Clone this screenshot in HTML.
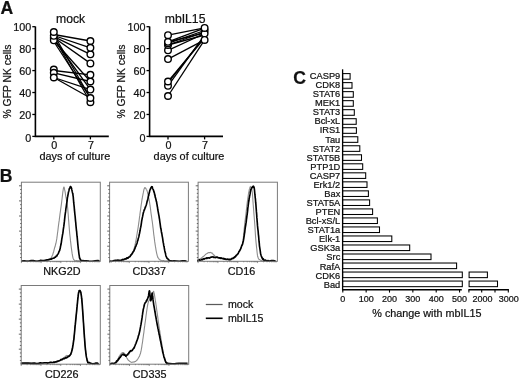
<!DOCTYPE html>
<html><head><meta charset="utf-8"><style>
html,body{margin:0;padding:0;background:#fff;width:520px;height:380px;overflow:hidden}
svg{display:block;filter:grayscale(1)}
text{font-family:"Liberation Sans", sans-serif;fill:#111;stroke:#111;stroke-width:0.22px}
</style></head><body>
<svg width="520" height="380" viewBox="0 0 520 380">
<path d="M35.40 26.40 V136.40 H108.80" fill="none" stroke="#000" stroke-width="1.6"/>
<line x1="32.30" y1="136.40" x2="35.40" y2="136.40" stroke="#000" stroke-width="1.3"/>
<text x="31.30" y="141.80" font-size="10.8" text-anchor="end" font-weight="normal" >0</text>
<line x1="32.30" y1="114.46" x2="35.40" y2="114.46" stroke="#000" stroke-width="1.3"/>
<text x="31.30" y="118.76" font-size="10.8" text-anchor="end" font-weight="normal" >20</text>
<line x1="32.30" y1="92.52" x2="35.40" y2="92.52" stroke="#000" stroke-width="1.3"/>
<text x="31.30" y="96.82" font-size="10.8" text-anchor="end" font-weight="normal" >40</text>
<line x1="32.30" y1="70.58" x2="35.40" y2="70.58" stroke="#000" stroke-width="1.3"/>
<text x="31.30" y="74.88" font-size="10.8" text-anchor="end" font-weight="normal" >60</text>
<line x1="32.30" y1="48.64" x2="35.40" y2="48.64" stroke="#000" stroke-width="1.3"/>
<text x="31.30" y="52.94" font-size="10.8" text-anchor="end" font-weight="normal" >80</text>
<line x1="32.30" y1="26.70" x2="35.40" y2="26.70" stroke="#000" stroke-width="1.3"/>
<text x="31.30" y="31.00" font-size="10.8" text-anchor="end" font-weight="normal" >100</text>
<line x1="53.80" y1="136.40" x2="53.80" y2="139.40" stroke="#000" stroke-width="1.3"/>
<text x="54.30" y="149.20" font-size="10.8" text-anchor="middle" font-weight="normal" >0</text>
<line x1="90.40" y1="136.40" x2="90.40" y2="139.40" stroke="#000" stroke-width="1.3"/>
<text x="90.90" y="149.20" font-size="10.8" text-anchor="middle" font-weight="normal" >7</text>
<text x="74.80" y="159.60" font-size="10.9" text-anchor="middle" font-weight="normal" >days of culture</text>
<text x="70.65" y="23.00" font-size="12.2" text-anchor="middle" font-weight="normal" >mock</text>
<text transform="translate(10.70,81.5) rotate(-90)" font-size="10.35" text-anchor="middle">% GFP NK cells</text>
<line x1="53.80" y1="34.50" x2="90.40" y2="41.00" stroke="#000" stroke-width="1.3"/>
<line x1="53.80" y1="35.50" x2="90.40" y2="47.80" stroke="#000" stroke-width="1.3"/>
<line x1="53.80" y1="36.60" x2="90.40" y2="54.30" stroke="#000" stroke-width="1.3"/>
<line x1="53.80" y1="37.50" x2="90.40" y2="63.40" stroke="#000" stroke-width="1.3"/>
<line x1="53.80" y1="40.50" x2="90.40" y2="81.50" stroke="#000" stroke-width="1.3"/>
<line x1="53.80" y1="39.00" x2="90.40" y2="89.60" stroke="#000" stroke-width="1.3"/>
<line x1="53.80" y1="34.50" x2="90.40" y2="98.00" stroke="#000" stroke-width="1.3"/>
<line x1="53.80" y1="37.00" x2="90.40" y2="102.20" stroke="#000" stroke-width="1.3"/>
<line x1="53.80" y1="41.50" x2="90.40" y2="98.00" stroke="#000" stroke-width="1.3"/>
<line x1="53.80" y1="70.50" x2="90.40" y2="74.80" stroke="#000" stroke-width="1.3"/>
<line x1="53.80" y1="72.80" x2="90.40" y2="81.50" stroke="#000" stroke-width="1.3"/>
<line x1="53.80" y1="77.50" x2="90.40" y2="89.60" stroke="#000" stroke-width="1.3"/>
<line x1="53.80" y1="77.50" x2="90.40" y2="98.00" stroke="#000" stroke-width="1.3"/>
<circle cx="53.80" cy="38.00" r="3.3" fill="#fff" stroke="#000" stroke-width="1.4"/>
<circle cx="53.80" cy="40.30" r="3.3" fill="#fff" stroke="#000" stroke-width="1.4"/>
<circle cx="53.80" cy="35.80" r="3.3" fill="#fff" stroke="#000" stroke-width="1.4"/>
<circle cx="53.80" cy="32.00" r="3.3" fill="#fff" stroke="#000" stroke-width="1.4"/>
<circle cx="53.80" cy="69.60" r="3.3" fill="#fff" stroke="#000" stroke-width="1.4"/>
<circle cx="53.80" cy="72.80" r="3.3" fill="#fff" stroke="#000" stroke-width="1.4"/>
<circle cx="53.80" cy="77.50" r="3.3" fill="#fff" stroke="#000" stroke-width="1.4"/>
<circle cx="90.40" cy="102.20" r="3.3" fill="#fff" stroke="#000" stroke-width="1.4"/>
<circle cx="90.40" cy="98.00" r="3.3" fill="#fff" stroke="#000" stroke-width="1.4"/>
<circle cx="90.40" cy="89.60" r="3.3" fill="#fff" stroke="#000" stroke-width="1.4"/>
<circle cx="90.40" cy="81.50" r="3.3" fill="#fff" stroke="#000" stroke-width="1.4"/>
<circle cx="90.40" cy="74.80" r="3.3" fill="#fff" stroke="#000" stroke-width="1.4"/>
<circle cx="90.40" cy="63.40" r="3.3" fill="#fff" stroke="#000" stroke-width="1.4"/>
<circle cx="90.40" cy="54.30" r="3.3" fill="#fff" stroke="#000" stroke-width="1.4"/>
<circle cx="90.40" cy="47.80" r="3.3" fill="#fff" stroke="#000" stroke-width="1.4"/>
<circle cx="90.40" cy="41.00" r="3.3" fill="#fff" stroke="#000" stroke-width="1.4"/>
<path d="M149.60 26.40 V136.40 H223.00" fill="none" stroke="#000" stroke-width="1.6"/>
<line x1="146.50" y1="136.40" x2="149.60" y2="136.40" stroke="#000" stroke-width="1.3"/>
<text x="145.50" y="141.80" font-size="10.8" text-anchor="end" font-weight="normal" >0</text>
<line x1="146.50" y1="114.46" x2="149.60" y2="114.46" stroke="#000" stroke-width="1.3"/>
<text x="145.50" y="118.76" font-size="10.8" text-anchor="end" font-weight="normal" >20</text>
<line x1="146.50" y1="92.52" x2="149.60" y2="92.52" stroke="#000" stroke-width="1.3"/>
<text x="145.50" y="96.82" font-size="10.8" text-anchor="end" font-weight="normal" >40</text>
<line x1="146.50" y1="70.58" x2="149.60" y2="70.58" stroke="#000" stroke-width="1.3"/>
<text x="145.50" y="74.88" font-size="10.8" text-anchor="end" font-weight="normal" >60</text>
<line x1="146.50" y1="48.64" x2="149.60" y2="48.64" stroke="#000" stroke-width="1.3"/>
<text x="145.50" y="52.94" font-size="10.8" text-anchor="end" font-weight="normal" >80</text>
<line x1="146.50" y1="26.70" x2="149.60" y2="26.70" stroke="#000" stroke-width="1.3"/>
<text x="145.50" y="31.00" font-size="10.8" text-anchor="end" font-weight="normal" >100</text>
<line x1="168.00" y1="136.40" x2="168.00" y2="139.40" stroke="#000" stroke-width="1.3"/>
<text x="168.50" y="149.20" font-size="10.8" text-anchor="middle" font-weight="normal" >0</text>
<line x1="204.60" y1="136.40" x2="204.60" y2="139.40" stroke="#000" stroke-width="1.3"/>
<text x="205.10" y="149.20" font-size="10.8" text-anchor="middle" font-weight="normal" >7</text>
<text x="189.00" y="159.60" font-size="10.9" text-anchor="middle" font-weight="normal" >days of culture</text>
<text x="185.10" y="23.00" font-size="12.2" text-anchor="middle" font-weight="normal" >mbIL15</text>
<text transform="translate(124.90,81.5) rotate(-90)" font-size="10.35" text-anchor="middle">% GFP NK cells</text>
<line x1="168.00" y1="35.20" x2="204.60" y2="27.90" stroke="#000" stroke-width="1.3"/>
<line x1="168.00" y1="41.80" x2="204.60" y2="28.20" stroke="#000" stroke-width="1.3"/>
<line x1="168.00" y1="43.30" x2="204.60" y2="30.50" stroke="#000" stroke-width="1.3"/>
<line x1="168.00" y1="45.00" x2="204.60" y2="32.00" stroke="#000" stroke-width="1.3"/>
<line x1="168.00" y1="50.30" x2="204.60" y2="33.50" stroke="#000" stroke-width="1.3"/>
<line x1="168.00" y1="59.10" x2="204.60" y2="39.90" stroke="#000" stroke-width="1.3"/>
<line x1="168.00" y1="41.80" x2="204.60" y2="33.00" stroke="#000" stroke-width="1.3"/>
<line x1="168.00" y1="45.00" x2="204.60" y2="35.00" stroke="#000" stroke-width="1.3"/>
<line x1="168.00" y1="81.50" x2="204.60" y2="38.00" stroke="#000" stroke-width="1.3"/>
<line x1="168.00" y1="82.80" x2="204.60" y2="36.50" stroke="#000" stroke-width="1.3"/>
<line x1="168.00" y1="85.80" x2="204.60" y2="35.20" stroke="#000" stroke-width="1.3"/>
<line x1="168.00" y1="96.00" x2="204.60" y2="39.90" stroke="#000" stroke-width="1.3"/>
<circle cx="168.00" cy="96.00" r="3.3" fill="#fff" stroke="#000" stroke-width="1.4"/>
<circle cx="168.00" cy="85.80" r="3.3" fill="#fff" stroke="#000" stroke-width="1.4"/>
<circle cx="168.00" cy="81.50" r="3.3" fill="#fff" stroke="#000" stroke-width="1.4"/>
<circle cx="168.00" cy="59.10" r="3.3" fill="#fff" stroke="#000" stroke-width="1.4"/>
<circle cx="168.00" cy="50.30" r="3.3" fill="#fff" stroke="#000" stroke-width="1.4"/>
<circle cx="168.00" cy="45.00" r="3.3" fill="#fff" stroke="#000" stroke-width="1.4"/>
<circle cx="168.00" cy="43.30" r="3.3" fill="#fff" stroke="#000" stroke-width="1.4"/>
<circle cx="168.00" cy="41.80" r="3.3" fill="#fff" stroke="#000" stroke-width="1.4"/>
<circle cx="168.00" cy="35.20" r="3.3" fill="#fff" stroke="#000" stroke-width="1.4"/>
<circle cx="204.60" cy="30.50" r="3.3" fill="#fff" stroke="#000" stroke-width="1.4"/>
<circle cx="204.60" cy="33.50" r="3.3" fill="#fff" stroke="#000" stroke-width="1.4"/>
<circle cx="204.60" cy="27.90" r="3.3" fill="#fff" stroke="#000" stroke-width="1.4"/>
<circle cx="204.60" cy="39.90" r="3.3" fill="#fff" stroke="#000" stroke-width="1.4"/>
<path d="M21.11 260.84 L23.56 261.01 L27.08 260.88 L31.19 260.99 L35.39 260.97 L39.19 260.58 L42.10 260.48 L44.08 260.93 L45.50 260.57 L46.53 260.52 L47.30 260.89 L47.99 260.40 L48.74 260.31 L49.49 259.64 L50.13 259.19 L50.67 258.26 L51.15 257.82 L51.60 257.16 L52.05 256.09 L52.48 255.28 L52.87 254.22 L53.23 252.76 L53.57 252.01 L53.91 250.69 L54.26 249.23 L54.64 247.73 L55.02 246.83 L55.41 245.14 L55.78 243.76 L56.14 242.27 L56.47 240.52 L56.77 238.93 L57.03 236.84 L57.27 235.25 L57.51 233.14 L57.76 231.48 L58.02 229.42 L58.30 226.81 L58.60 224.58 L58.90 222.30 L59.21 220.43 L59.50 217.85 L59.79 215.83 L60.06 213.64 L60.33 211.86 L60.59 209.94 L60.84 208.11 L61.09 206.44 L61.34 204.60 L61.57 202.86 L61.81 200.72 L62.04 198.86 L62.26 196.88 L62.47 195.19 L62.66 193.45 L62.84 191.83 L63.00 191.08 L63.14 190.13 L63.28 189.24 L63.42 188.34 L63.55 187.88 L63.66 187.19 L63.77 187.33 L63.86 187.10 L63.96 187.00 L64.08 187.10 L64.21 187.96 L64.35 188.56 L64.50 188.67 L64.66 189.89 L64.85 190.64 L65.06 191.69 L65.31 193.23 L65.63 195.30 L66.01 197.47 L66.42 199.31 L66.83 202.09 L67.21 204.19 L67.52 206.92 L67.77 208.93 L67.97 211.50 L68.15 213.80 L68.30 215.75 L68.46 218.29 L68.63 220.12 L68.81 222.22 L68.98 224.77 L69.15 226.67 L69.33 229.01 L69.52 231.38 L69.73 233.74 L69.97 235.76 L70.23 238.04 L70.49 240.89 L70.77 242.85 L71.03 245.41 L71.28 247.35 L71.51 248.85 L71.73 250.59 L71.95 252.19 L72.16 253.70 L72.38 254.97 L72.61 256.11 L72.83 257.14 L73.04 258.17 L73.26 258.61 L73.50 259.15 L73.79 259.82 L74.16 259.95 L74.54 260.30 L74.93 260.88 L75.36 260.69 L75.89 260.74 L76.58 260.44 L77.47 260.73 L78.73 260.89 L80.34 260.60 L82.10 261.00 L83.82 261.04 L85.29 260.72 L86.31 261.08" fill="none" stroke="#8c8c8c" stroke-width="1.1" stroke-linejoin="round"/>
<path d="M21.11 260.97 L22.42 261.17 L24.22 260.90 L26.35 261.24 L28.68 261.28 L31.03 260.62 L33.26 260.60 L35.49 261.07 L37.85 261.22 L40.24 260.44 L42.55 260.46 L44.69 260.40 L46.53 259.94 L48.05 259.74 L49.35 259.42 L50.46 259.17 L51.44 259.06 L52.32 258.47 L53.16 258.20 L53.91 258.22 L54.55 257.21 L55.09 257.35 L55.57 257.13 L56.02 256.34 L56.47 255.82 L56.91 255.88 L57.31 254.88 L57.67 254.32 L58.02 253.98 L58.35 253.59 L58.68 252.35 L59.01 251.79 L59.31 250.99 L59.61 250.56 L59.89 249.25 L60.17 248.59 L60.45 246.81 L60.72 245.68 L60.98 244.55 L61.24 243.26 L61.49 241.30 L61.74 239.50 L62.00 237.81 L62.25 236.62 L62.51 234.76 L62.76 233.74 L63.01 232.11 L63.27 229.74 L63.55 227.87 L63.83 226.14 L64.13 223.55 L64.43 221.14 L64.73 218.14 L65.03 215.46 L65.31 213.32 L65.59 211.69 L65.85 209.24 L66.12 207.42 L66.37 205.68 L66.62 203.94 L66.86 202.23 L67.09 201.03 L67.31 198.72 L67.52 197.04 L67.74 196.41 L67.96 194.97 L68.19 193.79 L68.44 192.11 L68.70 191.46 L68.97 190.42 L69.24 188.88 L69.50 188.58 L69.73 188.05 L69.94 187.46 L70.14 187.05 L70.31 186.69 L70.49 186.71 L70.66 186.68 L70.84 186.69 L71.02 187.41 L71.21 187.49 L71.39 188.42 L71.58 188.28 L71.76 189.67 L71.95 190.17 L72.13 191.14 L72.33 191.97 L72.53 192.91 L72.71 193.61 L72.89 194.12 L73.05 195.81 L73.18 196.30 L73.29 197.40 L73.38 198.75 L73.48 199.72 L73.58 200.84 L73.71 202.71 L73.87 204.02 L74.05 205.57 L74.24 207.41 L74.43 209.94 L74.63 211.57 L74.82 213.77 L75.00 215.24 L75.19 216.97 L75.37 219.14 L75.56 221.26 L75.74 222.55 L75.92 224.97 L76.11 226.96 L76.29 228.72 L76.48 230.60 L76.66 231.74 L76.84 234.16 L77.03 236.24 L77.21 237.40 L77.40 239.52 L77.58 241.44 L77.77 243.57 L77.95 245.31 L78.13 247.09 L78.31 249.04 L78.49 250.00 L78.66 251.64 L78.84 253.20 L79.03 254.55 L79.24 255.68 L79.45 257.49 L79.66 258.22 L79.88 258.22 L80.12 259.18 L80.42 259.50 L80.79 259.94 L81.10 260.31 L81.31 260.80 L81.57 260.88 L82.03 260.76 L82.83 260.66 L84.10 260.85 L86.16 260.71 L88.93 261.12 L92.05 261.25 L95.11 260.93 L97.75 260.63 L99.58 260.71" fill="none" stroke="#000" stroke-width="1.65" stroke-linejoin="round"/>
<path d="M121.26 260.70 L122.01 260.59 L123.06 260.38 L124.30 259.75 L125.60 259.55 L126.84 258.94 L127.89 258.27 L128.78 257.63 L129.61 257.05 L130.38 256.46 L131.09 255.52 L131.73 254.85 L132.31 253.81 L132.81 252.74 L133.22 251.95 L133.56 251.01 L133.87 249.51 L134.18 248.47 L134.53 247.07 L134.90 245.73 L135.28 243.97 L135.66 241.72 L136.03 240.05 L136.39 238.00 L136.74 235.77 L137.06 234.02 L137.37 231.95 L137.66 230.50 L137.95 228.54 L138.23 226.81 L138.50 224.89 L138.77 222.95 L139.04 221.12 L139.29 219.15 L139.54 217.01 L139.80 215.43 L140.05 213.21 L140.31 211.39 L140.58 209.82 L140.84 207.43 L141.10 205.55 L141.35 203.74 L141.60 202.54 L141.83 200.59 L142.07 199.06 L142.29 198.22 L142.51 196.53 L142.72 195.79 L142.92 194.58 L143.12 193.62 L143.32 192.69 L143.51 191.55 L143.69 190.85 L143.86 189.66 L144.03 189.48 L144.19 188.83 L144.33 188.56 L144.47 187.91 L144.61 188.09 L144.76 188.08 L144.91 187.49 L145.09 187.66 L145.27 187.92 L145.45 188.27 L145.64 188.16 L145.83 188.40 L146.02 188.72 L146.20 189.22 L146.39 189.60 L146.57 189.72 L146.76 190.08 L146.94 190.53 L147.12 191.02 L147.31 191.65 L147.48 192.11 L147.66 193.07 L147.85 194.13 L148.03 194.64 L148.23 195.74 L148.44 196.33 L148.65 197.61 L148.87 198.69 L149.09 199.76 L149.32 200.92 L149.56 202.30 L149.80 204.00 L150.06 205.95 L150.32 207.42 L150.58 209.37 L150.84 211.74 L151.10 213.76 L151.36 215.39 L151.63 217.21 L151.89 219.24 L152.15 220.79 L152.41 222.71 L152.65 224.53 L152.88 226.63 L153.10 228.33 L153.31 230.15 L153.53 232.29 L153.75 234.32 L153.98 235.79 L154.22 237.94 L154.48 239.72 L154.74 241.93 L155.00 243.68 L155.26 245.30 L155.52 246.94 L155.78 248.37 L156.03 250.11 L156.28 251.42 L156.54 252.57 L156.80 253.83 L157.07 254.85 L157.34 256.01 L157.59 256.38 L157.85 257.53 L158.13 257.78 L158.45 258.35 L158.84 258.74 L159.25 259.39 L159.67 259.75 L160.12 259.90 L160.67 260.12 L161.33 260.49 L162.16 260.77 L163.28 260.65 L164.69 260.96 L166.23 261.16 L167.72 260.91 L169.00 260.80 L169.89 260.84" fill="none" stroke="#8c8c8c" stroke-width="1.1" stroke-linejoin="round"/>
<path d="M109.11 261.20 L109.96 261.12 L111.15 261.32 L112.56 261.16 L114.06 260.54 L115.53 260.39 L116.84 260.33 L118.04 260.13 L119.22 260.43 L120.36 260.38 L121.47 260.22 L122.51 259.43 L123.47 259.76 L124.35 259.04 L125.15 258.92 L125.89 258.97 L126.58 258.13 L127.25 257.84 L127.89 258.16 L128.51 257.30 L129.08 256.96 L129.62 256.73 L130.15 256.33 L130.67 255.16 L131.21 254.80 L131.77 254.12 L132.36 253.27 L132.94 252.06 L133.50 251.39 L134.04 250.73 L134.53 249.25 L134.96 248.48 L135.34 247.23 L135.70 246.49 L136.04 245.93 L136.38 244.47 L136.74 244.10 L137.11 242.96 L137.49 240.98 L137.87 240.44 L138.24 238.58 L138.60 237.55 L138.95 236.14 L139.27 234.30 L139.58 233.17 L139.87 231.64 L140.16 230.26 L140.44 228.25 L140.71 227.18 L140.99 225.85 L141.25 224.04 L141.50 222.36 L141.75 220.46 L142.01 219.35 L142.26 217.86 L142.52 216.91 L142.77 215.66 L143.02 214.41 L143.28 212.98 L143.54 212.37 L143.81 211.39 L144.10 210.09 L144.41 209.92 L144.72 208.96 L145.03 207.78 L145.32 207.84 L145.58 206.47 L145.80 206.03 L145.99 205.83 L146.17 205.20 L146.34 204.64 L146.51 204.18 L146.68 203.39 L146.87 202.58 L147.05 201.73 L147.24 200.87 L147.42 200.68 L147.60 199.94 L147.79 198.99 L147.97 198.42 L148.16 197.33 L148.34 196.50 L148.52 195.86 L148.71 195.55 L148.89 194.06 L149.08 193.70 L149.26 192.67 L149.45 192.33 L149.63 191.19 L149.81 190.46 L150.00 189.90 L150.18 189.51 L150.37 189.27 L150.55 188.50 L150.74 188.61 L150.92 187.66 L151.10 187.54 L151.29 187.15 L151.47 186.93 L151.66 187.34 L151.84 187.18 L152.02 186.68 L152.21 186.80 L152.39 187.28 L152.58 187.99 L152.76 188.57 L152.95 189.08 L153.13 189.52 L153.31 189.67 L153.50 190.42 L153.68 190.76 L153.87 191.60 L154.05 192.19 L154.23 192.45 L154.42 193.13 L154.60 194.29 L154.79 194.34 L154.97 195.79 L155.16 196.65 L155.34 197.48 L155.52 197.73 L155.71 198.60 L155.89 199.32 L156.08 200.05 L156.26 201.08 L156.45 201.60 L156.63 202.13 L156.81 203.60 L156.98 204.29 L157.15 205.48 L157.33 206.75 L157.52 207.31 L157.73 209.27 L157.97 210.54 L158.23 211.84 L158.49 213.39 L158.77 214.89 L159.03 216.20 L159.28 218.02 L159.51 219.07 L159.73 220.98 L159.95 222.60 L160.16 223.91 L160.38 225.52 L160.61 227.36 L160.85 228.80 L161.11 229.61 L161.37 231.69 L161.63 233.04 L161.90 234.01 L162.16 235.79 L162.42 237.19 L162.68 238.60 L162.94 240.57 L163.20 242.44 L163.46 243.35 L163.70 245.21 L163.93 246.31 L164.15 246.99 L164.37 248.76 L164.58 249.61 L164.80 250.95 L165.03 251.79 L165.27 252.84 L165.50 253.50 L165.75 254.91 L166.00 255.95 L166.28 256.75 L166.58 257.14 L166.89 258.09 L167.22 258.42 L167.57 258.59 L167.94 258.97 L168.35 259.39 L168.79 259.83 L169.15 260.08 L169.40 260.58 L169.68 260.91 L170.14 260.88 L170.90 260.86 L172.10 261.13 L174.02 260.88 L176.61 261.03 L179.49 261.29 L182.34 260.94 L184.78 260.72 L186.47 261.36" fill="none" stroke="#000" stroke-width="1.65" stroke-linejoin="round"/>
<path d="M198.21 260.24 L198.70 259.71 L199.40 259.27 L200.21 258.85 L201.08 258.33 L201.91 257.55 L202.63 256.89 L203.25 256.52 L203.82 256.34 L204.36 255.44 L204.88 255.13 L205.41 254.50 L205.95 254.11 L206.51 253.72 L207.08 253.53 L207.65 253.09 L208.21 252.75 L208.75 252.61 L209.26 252.51 L209.75 252.65 L210.23 252.40 L210.69 252.44 L211.12 252.81 L211.53 252.93 L211.92 253.28 L212.24 253.10 L212.51 253.56 L212.76 253.84 L213.01 253.94 L213.31 254.85 L213.68 254.78 L214.15 255.16 L214.67 255.92 L215.24 256.29 L215.84 257.11 L216.43 257.42 L217.00 257.64 L217.53 257.80 L218.02 258.31 L218.52 258.07 L219.05 258.38 L219.63 258.21 L220.31 258.57 L221.13 258.35 L222.07 258.53 L223.08 258.76 L224.08 259.31 L225.02 259.38 L225.84 259.34 L226.52 259.26 L227.11 259.65 L227.64 259.83 L228.13 259.58 L228.63 259.19 L229.16 259.15 L229.72 259.12 L230.30 259.09 L230.88 258.92 L231.45 258.81 L231.98 259.02 L232.47 259.00 L232.90 258.38 L233.29 258.61 L233.65 258.06 L233.99 257.98 L234.33 257.75 L234.68 257.46 L235.05 256.59 L235.42 256.42 L235.79 256.25 L236.16 256.07 L236.52 255.15 L236.89 254.83 L237.26 254.68 L237.63 253.73 L238.00 253.35 L238.37 252.74 L238.74 252.34 L239.10 251.85 L239.48 250.71 L239.86 250.33 L240.25 249.56 L240.63 248.85 L240.98 247.90 L241.31 247.37 L241.62 246.31 L241.91 245.65 L242.18 244.85 L242.44 244.46 L242.66 243.50 L242.86 242.49 L243.02 241.50 L243.13 240.86 L243.22 239.76 L243.30 238.69 L243.40 237.25 L243.52 235.90 L243.68 234.10 L243.85 232.64 L244.04 230.31 L244.23 228.59 L244.43 226.79 L244.63 224.82 L244.84 222.60 L245.06 220.82 L245.28 219.32 L245.51 217.33 L245.73 215.61 L245.96 213.73 L246.18 211.59 L246.40 209.93 L246.62 207.91 L246.84 205.78 L247.06 203.97 L247.28 202.05 L247.50 200.59 L247.72 199.31 L247.95 197.24 L248.17 196.05 L248.39 194.39 L248.61 193.10 L248.83 192.26 L249.05 190.90 L249.27 189.76 L249.49 188.92 L249.71 188.45 L249.93 187.80 L250.16 186.98 L250.38 186.74 L250.61 186.95 L250.84 186.44 L251.05 186.77 L251.26 187.03 L251.46 187.86 L251.66 188.62 L251.85 189.79 L252.04 190.83 L252.21 191.88 L252.37 193.16 L252.50 194.41 L252.61 196.25 L252.71 197.29 L252.81 198.77 L252.91 200.94 L253.03 202.13 L253.16 204.28 L253.31 205.63 L253.46 207.75 L253.61 209.53 L253.76 211.82 L253.91 213.58 L254.06 215.44 L254.21 217.32 L254.36 219.19 L254.50 220.72 L254.65 222.78 L254.80 224.68 L254.94 226.61 L255.08 229.31 L255.23 231.49 L255.37 233.94 L255.52 235.84 L255.68 238.18 L255.85 240.17 L256.03 242.31 L256.22 243.85 L256.41 245.86 L256.60 247.70 L256.79 249.09 L256.96 250.94 L257.11 252.54 L257.27 253.74 L257.44 255.16 L257.64 256.27 L257.89 257.02 L258.17 257.90 L258.47 258.90 L258.79 258.98 L259.16 259.42 L259.59 259.54 L260.10 259.93 L260.76 260.18 L261.58 260.84 L262.45 260.87 L263.30 261.07 L264.02 261.22 L264.52 261.07" fill="none" stroke="#8c8c8c" stroke-width="1.1" stroke-linejoin="round"/>
<path d="M197.77 261.39 L197.77 260.93 L197.74 260.69 L197.71 261.00 L197.75 260.78 L197.90 260.66 L198.21 260.09 L198.73 260.23 L199.43 259.80 L200.24 260.23 L201.09 260.06 L201.91 259.38 L202.63 259.82 L203.25 258.98 L203.82 258.70 L204.36 259.06 L204.88 258.47 L205.41 258.48 L205.95 258.44 L206.50 257.79 L207.05 258.34 L207.60 257.86 L208.16 257.94 L208.71 257.80 L209.26 258.08 L209.82 257.98 L210.37 257.44 L210.92 257.14 L211.47 257.19 L212.03 257.19 L212.58 256.81 L213.13 256.83 L213.68 257.35 L214.24 257.29 L214.79 257.55 L215.34 257.58 L215.89 257.53 L216.45 257.15 L217.00 257.07 L217.55 257.33 L218.10 257.60 L218.66 257.78 L219.21 257.90 L219.76 257.82 L220.31 258.32 L220.87 257.87 L221.42 258.09 L221.97 258.55 L222.53 258.59 L223.08 258.29 L223.63 258.45 L224.18 259.18 L224.74 258.68 L225.29 258.97 L225.84 259.46 L226.39 259.54 L226.95 259.24 L227.50 259.14 L228.05 259.26 L228.60 259.73 L229.16 259.40 L229.72 259.80 L230.30 259.55 L230.88 259.63 L231.45 258.66 L231.98 258.65 L232.47 258.32 L232.90 258.50 L233.29 258.18 L233.65 257.67 L233.99 257.84 L234.33 257.14 L234.68 257.02 L235.05 256.64 L235.42 256.81 L235.79 256.11 L236.16 255.59 L236.52 254.99 L236.89 254.89 L237.26 254.58 L237.63 254.11 L238.00 253.78 L238.37 253.11 L238.74 252.00 L239.10 251.26 L239.48 251.14 L239.86 250.44 L240.25 249.43 L240.63 248.94 L240.98 247.92 L241.31 246.91 L241.61 246.09 L241.89 245.27 L242.14 245.14 L242.39 244.65 L242.62 243.87 L242.86 242.60 L243.10 241.79 L243.34 240.94 L243.57 239.69 L243.79 238.33 L243.99 236.98 L244.19 235.93 L244.36 234.52 L244.50 233.47 L244.63 232.86 L244.76 232.04 L244.90 230.48 L245.07 229.11 L245.27 227.69 L245.49 226.33 L245.72 225.12 L245.96 223.26 L246.18 222.16 L246.40 219.92 L246.59 218.57 L246.78 217.26 L246.96 215.67 L247.14 214.57 L247.32 213.06 L247.50 211.66 L247.69 209.85 L247.87 207.78 L248.06 206.72 L248.24 205.18 L248.42 203.66 L248.61 202.11 L248.79 201.24 L248.98 200.23 L249.16 198.38 L249.35 197.82 L249.53 196.50 L249.71 195.60 L249.89 194.92 L250.07 193.96 L250.24 192.68 L250.42 191.34 L250.61 191.13 L250.82 189.70 L251.05 189.21 L251.30 189.01 L251.56 188.02 L251.83 187.53 L252.10 187.77 L252.37 187.48 L252.63 186.67 L252.91 186.53 L253.18 186.31 L253.45 186.18 L253.69 186.46 L253.91 187.51 L254.10 187.35 L254.26 188.36 L254.40 189.39 L254.53 190.45 L254.66 192.10 L254.80 193.57 L254.94 194.97 L255.09 196.17 L255.24 197.81 L255.39 198.61 L255.53 200.46 L255.68 202.73 L255.83 203.66 L255.98 205.67 L256.12 207.76 L256.27 209.49 L256.42 211.66 L256.57 213.10 L256.71 215.14 L256.85 217.66 L256.99 218.79 L257.14 221.34 L257.29 222.56 L257.45 225.16 L257.62 226.74 L257.80 228.58 L257.99 229.99 L258.18 231.78 L258.37 234.28 L258.56 235.62 L258.73 237.53 L258.91 240.02 L259.08 241.99 L259.26 243.14 L259.45 245.79 L259.66 247.14 L259.89 248.69 L260.12 250.12 L260.37 251.98 L260.63 254.02 L260.91 254.73 L261.21 255.74 L261.53 256.66 L261.85 257.35 L262.20 258.11 L262.57 259.06 L262.98 258.69 L263.42 259.15 L263.84 260.15 L264.24 260.44 L264.66 260.61 L265.18 260.08 L265.85 260.30 L266.73 260.96 L267.99 260.66 L269.60 260.95 L271.36 260.68 L273.08 260.48 L274.55 260.82 L275.58 261.22" fill="none" stroke="#000" stroke-width="1.65" stroke-linejoin="round"/>
<path d="M20.77 363.63 L22.58 363.48 L25.16 363.38 L28.17 363.38 L31.31 363.29 L34.26 363.30 L36.68 363.44 L38.59 363.02 L40.24 363.23 L41.68 363.40 L43.00 363.32 L44.26 362.87 L45.53 363.30 L46.78 363.17 L47.98 362.70 L49.12 362.70 L50.19 362.59 L51.20 362.41 L52.16 362.86 L53.03 362.40 L53.83 362.55 L54.57 361.96 L55.27 361.74 L55.93 362.09 L56.58 361.87 L57.20 361.80 L57.78 361.41 L58.33 361.10 L58.86 361.02 L59.38 360.38 L59.89 360.39 L60.41 360.06 L60.93 359.58 L61.44 359.53 L61.92 359.05 L62.37 358.87 L62.77 358.53 L63.10 358.27 L63.38 358.11 L63.62 358.08 L63.85 358.15 L64.07 357.95 L64.31 357.72 L64.57 357.49 L64.84 356.92 L65.10 357.10 L65.36 356.44 L65.62 356.13 L65.86 356.18 L66.10 356.15 L66.33 355.75 L66.55 355.78 L66.77 355.45 L66.98 355.79 L67.19 355.49 L67.38 355.60 L67.56 355.84 L67.73 356.29 L67.90 356.61 L68.09 356.53 L68.29 356.58 L68.53 356.71 L68.78 356.36 L69.05 356.50 L69.32 356.63 L69.59 356.39 L69.84 355.69 L70.07 355.81 L70.30 355.10 L70.52 354.96 L70.73 354.04 L70.95 353.34 L71.17 352.89 L71.39 352.43 L71.61 351.48 L71.83 351.02 L72.05 350.12 L72.27 348.99 L72.49 347.89 L72.72 346.80 L72.94 345.38 L73.17 343.91 L73.39 342.53 L73.61 341.05 L73.82 339.23 L74.02 337.26 L74.20 335.50 L74.39 333.73 L74.56 331.98 L74.74 329.80 L74.92 327.90 L75.11 326.20 L75.29 324.34 L75.48 322.35 L75.66 320.82 L75.84 319.21 L76.03 317.13 L76.22 315.39 L76.41 313.55 L76.60 311.66 L76.78 309.84 L76.96 307.76 L77.13 306.19 L77.29 304.21 L77.45 303.08 L77.59 301.25 L77.73 299.85 L77.87 298.74 L78.02 297.12 L78.17 295.90 L78.31 295.20 L78.46 294.07 L78.61 292.88 L78.76 292.08 L78.90 291.65 L79.05 290.96 L79.19 291.12 L79.33 290.51 L79.48 290.45 L79.63 290.51 L79.79 290.64 L79.96 290.72 L80.15 291.04 L80.34 291.35 L80.53 291.61 L80.72 291.93 L80.89 293.13 L81.05 293.75 L81.20 294.30 L81.35 295.56 L81.49 296.91 L81.63 298.34 L81.78 299.20 L81.92 300.72 L82.07 302.72 L82.22 304.52 L82.37 306.72 L82.51 308.67 L82.66 310.39 L82.81 312.52 L82.96 314.79 L83.10 317.21 L83.25 319.06 L83.40 321.44 L83.54 323.49 L83.69 326.05 L83.84 327.95 L83.99 330.75 L84.13 332.74 L84.28 334.94 L84.43 336.73 L84.57 338.81 L84.72 340.88 L84.86 342.98 L85.00 344.60 L85.15 346.20 L85.31 348.30 L85.48 349.76 L85.67 351.30 L85.85 352.66 L86.04 354.18 L86.23 355.89 L86.42 356.62 L86.59 357.88 L86.76 358.81 L86.93 359.40 L87.11 360.30 L87.30 360.97 L87.52 361.47 L87.74 361.86 L87.95 361.91 L88.17 362.12 L88.45 362.58 L88.81 362.72 L89.29 362.83 L89.98 363.40 L90.86 363.11 L91.83 363.54 L92.78 363.66 L93.59 363.20 L94.15 363.71" fill="none" stroke="#8c8c8c" stroke-width="1.1" stroke-linejoin="round"/>
<path d="M20.77 363.37 L22.58 363.18 L25.16 363.12 L28.17 362.95 L31.31 363.32 L34.26 363.17 L36.68 363.55 L38.59 363.50 L40.24 362.77 L41.68 363.05 L43.00 363.01 L44.26 362.78 L45.53 362.79 L46.78 362.75 L47.98 363.08 L49.12 362.69 L50.19 362.41 L51.20 362.43 L52.16 362.52 L53.03 362.52 L53.83 362.10 L54.57 362.37 L55.27 361.78 L55.93 362.02 L56.58 361.79 L57.19 361.21 L57.76 361.52 L58.30 360.98 L58.83 360.88 L59.35 360.70 L59.89 360.48 L60.45 360.07 L61.00 359.46 L61.55 359.85 L62.10 359.65 L62.66 359.06 L63.21 358.90 L63.77 358.39 L64.33 358.74 L64.89 358.34 L65.45 357.72 L66.00 358.03 L66.52 357.94 L67.04 357.10 L67.56 357.41 L68.07 356.66 L68.55 356.08 L69.00 356.25 L69.40 355.59 L69.73 355.64 L70.01 355.23 L70.25 354.51 L70.48 354.55 L70.70 354.41 L70.95 353.51 L71.21 352.87 L71.47 352.38 L71.73 351.13 L71.99 350.21 L72.25 349.23 L72.49 348.30 L72.73 346.49 L72.96 345.03 L73.18 344.18 L73.40 342.46 L73.61 340.64 L73.82 339.54 L74.02 337.82 L74.20 335.71 L74.39 334.24 L74.56 332.21 L74.74 330.24 L74.92 327.96 L75.11 325.87 L75.29 324.63 L75.48 322.84 L75.66 320.66 L75.84 318.93 L76.03 317.17 L76.22 315.02 L76.41 313.53 L76.60 311.52 L76.78 309.49 L76.96 307.44 L77.13 306.13 L77.29 304.28 L77.45 303.05 L77.59 301.03 L77.73 299.77 L77.87 298.23 L78.02 297.17 L78.17 296.16 L78.31 294.65 L78.46 293.61 L78.61 293.11 L78.76 292.09 L78.90 291.74 L79.05 290.96 L79.19 290.56 L79.33 290.73 L79.48 290.97 L79.63 290.90 L79.79 290.65 L79.96 290.66 L80.15 290.57 L80.34 291.05 L80.53 291.49 L80.72 292.57 L80.89 292.49 L81.05 294.04 L81.20 294.53 L81.35 295.54 L81.49 296.55 L81.63 298.47 L81.78 299.18 L81.92 301.08 L82.07 302.74 L82.22 304.29 L82.37 306.24 L82.51 308.91 L82.66 310.76 L82.81 312.78 L82.96 315.11 L83.10 316.61 L83.25 319.42 L83.40 321.73 L83.54 323.49 L83.69 325.93 L83.84 328.66 L83.99 330.34 L84.13 332.96 L84.28 334.60 L84.43 337.13 L84.57 338.76 L84.72 340.91 L84.86 342.65 L85.00 344.91 L85.15 346.54 L85.31 348.01 L85.48 349.83 L85.67 351.21 L85.85 353.11 L86.04 354.09 L86.23 355.69 L86.42 356.92 L86.59 357.76 L86.76 358.33 L86.93 359.19 L87.11 360.27 L87.30 360.46 L87.52 361.48 L87.69 361.72 L87.79 362.49 L87.90 362.70 L88.12 362.83 L88.55 362.72 L89.29 362.61 L90.51 363.22 L92.17 363.50 L94.04 363.73 L95.89 363.13 L97.48 363.12 L98.58 363.89" fill="none" stroke="#000" stroke-width="1.65" stroke-linejoin="round"/>
<path d="M114.63 363.38 L114.87 363.04 L115.20 362.96 L115.60 362.31 L116.02 362.19 L116.45 361.85 L116.84 361.31 L117.21 360.44 L117.58 359.70 L117.95 359.20 L118.32 358.55 L118.68 357.32 L119.05 356.54 L119.42 355.94 L119.79 355.73 L120.16 354.88 L120.53 354.37 L120.89 354.21 L121.26 353.59 L121.64 353.09 L122.02 353.14 L122.40 352.58 L122.77 352.68 L123.13 352.92 L123.47 352.67 L123.79 352.71 L124.08 353.19 L124.36 353.33 L124.64 354.04 L124.93 353.92 L125.24 354.81 L125.58 355.17 L125.93 356.15 L126.29 356.75 L126.67 357.71 L127.05 358.28 L127.45 358.88 L127.87 359.58 L128.30 360.31 L128.75 360.51 L129.20 360.86 L129.66 361.34 L130.10 361.45 L130.54 361.83 L130.98 362.17 L131.42 362.29 L131.86 362.40 L132.30 362.24 L132.76 362.07 L133.22 362.01 L133.70 362.10 L134.18 361.87 L134.66 361.89 L135.15 361.44 L135.63 361.41 L136.12 360.91 L136.61 360.49 L137.11 360.01 L137.60 359.30 L138.06 358.60 L138.50 357.83 L138.92 356.93 L139.31 356.57 L139.69 355.53 L140.05 354.35 L140.39 353.82 L140.71 352.47 L141.01 351.24 L141.28 349.77 L141.53 348.13 L141.77 347.12 L142.01 345.03 L142.26 343.52 L142.52 342.21 L142.77 339.94 L143.02 338.35 L143.28 336.47 L143.54 334.40 L143.81 332.82 L144.09 330.41 L144.39 327.94 L144.69 325.93 L145.00 323.36 L145.29 321.55 L145.58 319.54 L145.85 317.55 L146.12 315.04 L146.38 313.49 L146.63 311.44 L146.88 309.83 L147.12 308.17 L147.36 306.76 L147.57 305.37 L147.79 304.50 L148.00 303.14 L148.22 302.74 L148.45 301.39 L148.70 301.33 L148.95 300.46 L149.21 300.11 L149.47 300.26 L149.74 299.86 L150.00 299.62 L150.26 298.98 L150.52 298.52 L150.79 297.62 L151.05 297.40 L151.30 296.72 L151.55 296.43 L151.78 295.27 L152.02 294.70 L152.25 294.46 L152.47 294.03 L152.68 293.22 L152.87 292.96 L153.04 292.49 L153.19 292.00 L153.33 291.71 L153.46 291.59 L153.60 291.23 L153.76 291.62 L153.92 292.38 L154.10 292.82 L154.28 293.86 L154.47 294.78 L154.66 295.98 L154.86 297.34 L155.07 298.65 L155.28 300.14 L155.50 301.31 L155.72 302.67 L155.95 304.34 L156.19 305.81 L156.43 307.63 L156.69 309.64 L156.95 311.53 L157.21 313.20 L157.47 315.06 L157.73 316.87 L157.99 318.76 L158.24 320.79 L158.49 322.48 L158.75 324.70 L159.01 326.35 L159.28 328.05 L159.56 329.95 L159.86 331.55 L160.15 333.81 L160.45 335.66 L160.75 337.26 L161.05 339.32 L161.35 340.92 L161.65 342.82 L161.95 344.74 L162.25 346.60 L162.54 348.63 L162.82 350.30 L163.09 351.88 L163.35 352.95 L163.61 354.69 L163.86 355.77 L164.11 356.85 L164.37 357.94 L164.61 358.78 L164.83 359.38 L165.06 360.13 L165.30 360.82 L165.58 361.36 L165.91 361.94 L166.28 361.94 L166.67 362.72 L167.10 362.98 L167.58 363.19 L168.14 363.56 L168.79 363.24 L169.62 363.75 L170.64 363.89 L171.73 363.45 L172.78 363.74 L173.68 363.94 L174.31 363.56" fill="none" stroke="#8c8c8c" stroke-width="1.1" stroke-linejoin="round"/>
<path d="M109.77 364.00 L110.33 364.01 L111.13 363.56 L112.06 363.26 L113.03 363.26 L113.92 363.70 L114.63 363.17 L115.15 362.84 L115.56 362.66 L115.90 362.77 L116.20 361.80 L116.50 361.21 L116.84 361.66 L117.21 360.69 L117.58 360.32 L117.95 360.41 L118.32 359.33 L118.68 358.69 L119.05 358.95 L119.43 357.89 L119.81 357.36 L120.19 357.49 L120.56 356.36 L120.92 356.50 L121.26 355.58 L121.59 355.20 L121.89 354.78 L122.19 354.77 L122.47 354.53 L122.75 354.20 L123.03 354.20 L123.30 354.02 L123.56 354.62 L123.82 354.88 L124.07 354.93 L124.32 355.20 L124.58 354.69 L124.83 355.00 L125.09 355.12 L125.34 355.24 L125.59 356.11 L125.85 356.12 L126.13 356.11 L126.40 355.67 L126.68 355.09 L126.97 355.12 L127.26 354.49 L127.57 354.91 L127.89 353.98 L128.24 353.58 L128.60 353.67 L128.97 352.46 L129.35 352.58 L129.73 351.54 L130.10 351.47 L130.47 350.71 L130.84 351.26 L131.21 350.71 L131.58 350.54 L131.95 350.65 L132.31 350.30 L132.69 349.58 L133.07 348.98 L133.45 348.84 L133.82 347.75 L134.18 347.88 L134.53 346.77 L134.85 345.94 L135.16 345.36 L135.45 344.42 L135.74 343.84 L136.02 343.28 L136.29 342.41 L136.56 341.62 L136.83 340.87 L137.08 340.34 L137.33 339.88 L137.59 338.82 L137.84 338.32 L138.10 337.22 L138.36 336.02 L138.63 335.16 L138.89 334.84 L139.14 333.54 L139.39 332.46 L139.62 331.54 L139.85 330.75 L140.08 329.21 L140.30 328.06 L140.51 326.94 L140.71 325.50 L140.91 324.89 L141.10 323.76 L141.28 322.70 L141.46 321.57 L141.64 320.46 L141.82 319.51 L142.00 317.79 L142.19 317.18 L142.37 315.04 L142.56 314.38 L142.74 312.48 L142.92 311.86 L143.11 310.31 L143.29 309.13 L143.48 308.60 L143.66 307.98 L143.85 307.16 L144.03 306.42 L144.21 305.81 L144.40 304.35 L144.58 304.07 L144.77 303.31 L144.95 303.42 L145.14 302.73 L145.32 302.63 L145.50 302.40 L145.69 302.35 L145.87 301.85 L146.06 301.81 L146.24 301.27 L146.42 300.58 L146.61 301.06 L146.79 300.08 L146.98 299.80 L147.16 300.14 L147.35 299.26 L147.53 299.17 L147.72 298.13 L147.91 297.78 L148.10 297.67 L148.28 296.43 L148.45 296.16 L148.61 295.64 L148.77 293.85 L148.92 293.09 L149.06 292.04 L149.20 291.11 L149.34 290.87 L149.46 290.96 L149.57 290.89 L149.68 291.87 L149.79 293.16 L149.89 294.55 L150.00 294.79 L150.11 296.08 L150.21 296.79 L150.32 298.60 L150.42 299.29 L150.54 300.16 L150.66 300.71 L150.80 300.21 L150.95 300.36 L151.10 299.80 L151.26 299.09 L151.41 297.77 L151.55 297.01 L151.67 296.16 L151.78 295.85 L151.89 294.44 L152.00 293.52 L152.10 293.03 L152.21 293.02 L152.31 292.99 L152.41 293.71 L152.51 295.08 L152.62 296.23 L152.74 297.01 L152.87 297.97 L153.03 299.89 L153.19 300.93 L153.37 302.10 L153.56 303.26 L153.76 305.12 L153.98 306.02 L154.21 307.23 L154.46 308.58 L154.72 310.29 L154.99 312.01 L155.26 313.30 L155.52 315.31 L155.78 316.51 L156.03 317.81 L156.28 319.47 L156.54 320.88 L156.80 322.37 L157.07 323.73 L157.35 325.23 L157.64 326.67 L157.94 328.45 L158.24 329.34 L158.54 331.35 L158.84 332.38 L159.14 334.36 L159.44 335.16 L159.74 337.03 L160.04 338.48 L160.33 340.17 L160.61 341.12 L160.88 342.54 L161.14 343.76 L161.40 345.45 L161.65 346.73 L161.90 347.45 L162.16 348.82 L162.42 350.04 L162.68 351.90 L162.94 352.59 L163.20 353.79 L163.46 354.58 L163.70 355.88 L163.93 356.90 L164.15 357.58 L164.37 357.73 L164.58 358.82 L164.80 359.52 L165.03 359.74 L165.25 361.00 L165.46 361.14 L165.68 361.63 L165.92 362.39 L166.21 362.76 L166.58 363.01 L166.86 363.59 L167.02 363.44 L167.23 363.39 L167.66 363.20 L168.49 363.68 L169.89 363.56 L172.21 363.75 L175.38 363.59 L178.94 363.28 L182.46 363.29 L185.49 363.38 L187.58 363.31" fill="none" stroke="#000" stroke-width="1.65" stroke-linejoin="round"/>
<rect x="21.40" y="182.20" width="78.90" height="79.10" fill="none" stroke="#7a7a7a" stroke-width="1.0"/>
<line x1="20.10" y1="257.53" x2="21.40" y2="257.53" stroke="#555" stroke-width="0.9"/>
<line x1="20.10" y1="253.75" x2="21.40" y2="253.75" stroke="#555" stroke-width="0.9"/>
<line x1="20.10" y1="249.97" x2="21.40" y2="249.97" stroke="#555" stroke-width="0.9"/>
<line x1="19.00" y1="246.20" x2="21.40" y2="246.20" stroke="#555" stroke-width="0.9"/>
<line x1="20.10" y1="242.43" x2="21.40" y2="242.43" stroke="#555" stroke-width="0.9"/>
<line x1="20.10" y1="238.65" x2="21.40" y2="238.65" stroke="#555" stroke-width="0.9"/>
<line x1="20.10" y1="234.88" x2="21.40" y2="234.88" stroke="#555" stroke-width="0.9"/>
<line x1="19.00" y1="231.10" x2="21.40" y2="231.10" stroke="#555" stroke-width="0.9"/>
<line x1="20.10" y1="227.32" x2="21.40" y2="227.32" stroke="#555" stroke-width="0.9"/>
<line x1="20.10" y1="223.55" x2="21.40" y2="223.55" stroke="#555" stroke-width="0.9"/>
<line x1="20.10" y1="219.77" x2="21.40" y2="219.77" stroke="#555" stroke-width="0.9"/>
<line x1="19.00" y1="216.00" x2="21.40" y2="216.00" stroke="#555" stroke-width="0.9"/>
<line x1="20.10" y1="212.22" x2="21.40" y2="212.22" stroke="#555" stroke-width="0.9"/>
<line x1="20.10" y1="208.45" x2="21.40" y2="208.45" stroke="#555" stroke-width="0.9"/>
<line x1="20.10" y1="204.67" x2="21.40" y2="204.67" stroke="#555" stroke-width="0.9"/>
<line x1="19.00" y1="200.90" x2="21.40" y2="200.90" stroke="#555" stroke-width="0.9"/>
<line x1="20.10" y1="197.12" x2="21.40" y2="197.12" stroke="#555" stroke-width="0.9"/>
<line x1="20.10" y1="193.35" x2="21.40" y2="193.35" stroke="#555" stroke-width="0.9"/>
<line x1="20.10" y1="189.57" x2="21.40" y2="189.57" stroke="#555" stroke-width="0.9"/>
<line x1="19.00" y1="185.80" x2="21.40" y2="185.80" stroke="#555" stroke-width="0.9"/>
<line x1="21.40" y1="261.30" x2="21.40" y2="263.10" stroke="#666" stroke-width="0.7"/>
<line x1="27.34" y1="261.30" x2="27.34" y2="262.30" stroke="#666" stroke-width="0.7"/>
<line x1="30.81" y1="261.30" x2="30.81" y2="262.30" stroke="#666" stroke-width="0.7"/>
<line x1="33.28" y1="261.30" x2="33.28" y2="262.30" stroke="#666" stroke-width="0.7"/>
<line x1="35.19" y1="261.30" x2="35.19" y2="262.30" stroke="#666" stroke-width="0.7"/>
<line x1="36.75" y1="261.30" x2="36.75" y2="262.30" stroke="#666" stroke-width="0.7"/>
<line x1="38.07" y1="261.30" x2="38.07" y2="262.30" stroke="#666" stroke-width="0.7"/>
<line x1="39.21" y1="261.30" x2="39.21" y2="262.30" stroke="#666" stroke-width="0.7"/>
<line x1="40.22" y1="261.30" x2="40.22" y2="262.30" stroke="#666" stroke-width="0.7"/>
<line x1="41.12" y1="261.30" x2="41.12" y2="263.10" stroke="#666" stroke-width="0.7"/>
<line x1="47.06" y1="261.30" x2="47.06" y2="262.30" stroke="#666" stroke-width="0.7"/>
<line x1="50.54" y1="261.30" x2="50.54" y2="262.30" stroke="#666" stroke-width="0.7"/>
<line x1="53.00" y1="261.30" x2="53.00" y2="262.30" stroke="#666" stroke-width="0.7"/>
<line x1="54.91" y1="261.30" x2="54.91" y2="262.30" stroke="#666" stroke-width="0.7"/>
<line x1="56.47" y1="261.30" x2="56.47" y2="262.30" stroke="#666" stroke-width="0.7"/>
<line x1="57.79" y1="261.30" x2="57.79" y2="262.30" stroke="#666" stroke-width="0.7"/>
<line x1="58.94" y1="261.30" x2="58.94" y2="262.30" stroke="#666" stroke-width="0.7"/>
<line x1="59.95" y1="261.30" x2="59.95" y2="262.30" stroke="#666" stroke-width="0.7"/>
<line x1="60.85" y1="261.30" x2="60.85" y2="263.10" stroke="#666" stroke-width="0.7"/>
<line x1="66.79" y1="261.30" x2="66.79" y2="262.30" stroke="#666" stroke-width="0.7"/>
<line x1="70.26" y1="261.30" x2="70.26" y2="262.30" stroke="#666" stroke-width="0.7"/>
<line x1="72.73" y1="261.30" x2="72.73" y2="262.30" stroke="#666" stroke-width="0.7"/>
<line x1="74.64" y1="261.30" x2="74.64" y2="262.30" stroke="#666" stroke-width="0.7"/>
<line x1="76.20" y1="261.30" x2="76.20" y2="262.30" stroke="#666" stroke-width="0.7"/>
<line x1="77.52" y1="261.30" x2="77.52" y2="262.30" stroke="#666" stroke-width="0.7"/>
<line x1="78.66" y1="261.30" x2="78.66" y2="262.30" stroke="#666" stroke-width="0.7"/>
<line x1="79.67" y1="261.30" x2="79.67" y2="262.30" stroke="#666" stroke-width="0.7"/>
<line x1="80.58" y1="261.30" x2="80.58" y2="263.10" stroke="#666" stroke-width="0.7"/>
<line x1="86.51" y1="261.30" x2="86.51" y2="262.30" stroke="#666" stroke-width="0.7"/>
<line x1="89.99" y1="261.30" x2="89.99" y2="262.30" stroke="#666" stroke-width="0.7"/>
<line x1="92.45" y1="261.30" x2="92.45" y2="262.30" stroke="#666" stroke-width="0.7"/>
<line x1="94.36" y1="261.30" x2="94.36" y2="262.30" stroke="#666" stroke-width="0.7"/>
<line x1="95.92" y1="261.30" x2="95.92" y2="262.30" stroke="#666" stroke-width="0.7"/>
<line x1="97.24" y1="261.30" x2="97.24" y2="262.30" stroke="#666" stroke-width="0.7"/>
<line x1="98.39" y1="261.30" x2="98.39" y2="262.30" stroke="#666" stroke-width="0.7"/>
<line x1="99.40" y1="261.30" x2="99.40" y2="262.30" stroke="#666" stroke-width="0.7"/>
<text x="61.90" y="274.60" font-size="10.8" text-anchor="middle" font-weight="normal" >NKG2D</text>
<rect x="109.60" y="182.20" width="78.80" height="79.10" fill="none" stroke="#7a7a7a" stroke-width="1.0"/>
<line x1="108.30" y1="257.53" x2="109.60" y2="257.53" stroke="#555" stroke-width="0.9"/>
<line x1="108.30" y1="253.75" x2="109.60" y2="253.75" stroke="#555" stroke-width="0.9"/>
<line x1="108.30" y1="249.97" x2="109.60" y2="249.97" stroke="#555" stroke-width="0.9"/>
<line x1="107.20" y1="246.20" x2="109.60" y2="246.20" stroke="#555" stroke-width="0.9"/>
<line x1="108.30" y1="242.43" x2="109.60" y2="242.43" stroke="#555" stroke-width="0.9"/>
<line x1="108.30" y1="238.65" x2="109.60" y2="238.65" stroke="#555" stroke-width="0.9"/>
<line x1="108.30" y1="234.88" x2="109.60" y2="234.88" stroke="#555" stroke-width="0.9"/>
<line x1="107.20" y1="231.10" x2="109.60" y2="231.10" stroke="#555" stroke-width="0.9"/>
<line x1="108.30" y1="227.32" x2="109.60" y2="227.32" stroke="#555" stroke-width="0.9"/>
<line x1="108.30" y1="223.55" x2="109.60" y2="223.55" stroke="#555" stroke-width="0.9"/>
<line x1="108.30" y1="219.77" x2="109.60" y2="219.77" stroke="#555" stroke-width="0.9"/>
<line x1="107.20" y1="216.00" x2="109.60" y2="216.00" stroke="#555" stroke-width="0.9"/>
<line x1="108.30" y1="212.22" x2="109.60" y2="212.22" stroke="#555" stroke-width="0.9"/>
<line x1="108.30" y1="208.45" x2="109.60" y2="208.45" stroke="#555" stroke-width="0.9"/>
<line x1="108.30" y1="204.67" x2="109.60" y2="204.67" stroke="#555" stroke-width="0.9"/>
<line x1="107.20" y1="200.90" x2="109.60" y2="200.90" stroke="#555" stroke-width="0.9"/>
<line x1="108.30" y1="197.12" x2="109.60" y2="197.12" stroke="#555" stroke-width="0.9"/>
<line x1="108.30" y1="193.35" x2="109.60" y2="193.35" stroke="#555" stroke-width="0.9"/>
<line x1="108.30" y1="189.57" x2="109.60" y2="189.57" stroke="#555" stroke-width="0.9"/>
<line x1="107.20" y1="185.80" x2="109.60" y2="185.80" stroke="#555" stroke-width="0.9"/>
<line x1="109.60" y1="261.30" x2="109.60" y2="263.10" stroke="#666" stroke-width="0.7"/>
<line x1="115.53" y1="261.30" x2="115.53" y2="262.30" stroke="#666" stroke-width="0.7"/>
<line x1="119.00" y1="261.30" x2="119.00" y2="262.30" stroke="#666" stroke-width="0.7"/>
<line x1="121.46" y1="261.30" x2="121.46" y2="262.30" stroke="#666" stroke-width="0.7"/>
<line x1="123.37" y1="261.30" x2="123.37" y2="262.30" stroke="#666" stroke-width="0.7"/>
<line x1="124.93" y1="261.30" x2="124.93" y2="262.30" stroke="#666" stroke-width="0.7"/>
<line x1="126.25" y1="261.30" x2="126.25" y2="262.30" stroke="#666" stroke-width="0.7"/>
<line x1="127.39" y1="261.30" x2="127.39" y2="262.30" stroke="#666" stroke-width="0.7"/>
<line x1="128.40" y1="261.30" x2="128.40" y2="262.30" stroke="#666" stroke-width="0.7"/>
<line x1="129.30" y1="261.30" x2="129.30" y2="263.10" stroke="#666" stroke-width="0.7"/>
<line x1="135.23" y1="261.30" x2="135.23" y2="262.30" stroke="#666" stroke-width="0.7"/>
<line x1="138.70" y1="261.30" x2="138.70" y2="262.30" stroke="#666" stroke-width="0.7"/>
<line x1="141.16" y1="261.30" x2="141.16" y2="262.30" stroke="#666" stroke-width="0.7"/>
<line x1="143.07" y1="261.30" x2="143.07" y2="262.30" stroke="#666" stroke-width="0.7"/>
<line x1="144.63" y1="261.30" x2="144.63" y2="262.30" stroke="#666" stroke-width="0.7"/>
<line x1="145.95" y1="261.30" x2="145.95" y2="262.30" stroke="#666" stroke-width="0.7"/>
<line x1="147.09" y1="261.30" x2="147.09" y2="262.30" stroke="#666" stroke-width="0.7"/>
<line x1="148.10" y1="261.30" x2="148.10" y2="262.30" stroke="#666" stroke-width="0.7"/>
<line x1="149.00" y1="261.30" x2="149.00" y2="263.10" stroke="#666" stroke-width="0.7"/>
<line x1="154.93" y1="261.30" x2="154.93" y2="262.30" stroke="#666" stroke-width="0.7"/>
<line x1="158.40" y1="261.30" x2="158.40" y2="262.30" stroke="#666" stroke-width="0.7"/>
<line x1="160.86" y1="261.30" x2="160.86" y2="262.30" stroke="#666" stroke-width="0.7"/>
<line x1="162.77" y1="261.30" x2="162.77" y2="262.30" stroke="#666" stroke-width="0.7"/>
<line x1="164.33" y1="261.30" x2="164.33" y2="262.30" stroke="#666" stroke-width="0.7"/>
<line x1="165.65" y1="261.30" x2="165.65" y2="262.30" stroke="#666" stroke-width="0.7"/>
<line x1="166.79" y1="261.30" x2="166.79" y2="262.30" stroke="#666" stroke-width="0.7"/>
<line x1="167.80" y1="261.30" x2="167.80" y2="262.30" stroke="#666" stroke-width="0.7"/>
<line x1="168.70" y1="261.30" x2="168.70" y2="263.10" stroke="#666" stroke-width="0.7"/>
<line x1="174.63" y1="261.30" x2="174.63" y2="262.30" stroke="#666" stroke-width="0.7"/>
<line x1="178.10" y1="261.30" x2="178.10" y2="262.30" stroke="#666" stroke-width="0.7"/>
<line x1="180.56" y1="261.30" x2="180.56" y2="262.30" stroke="#666" stroke-width="0.7"/>
<line x1="182.47" y1="261.30" x2="182.47" y2="262.30" stroke="#666" stroke-width="0.7"/>
<line x1="184.03" y1="261.30" x2="184.03" y2="262.30" stroke="#666" stroke-width="0.7"/>
<line x1="185.35" y1="261.30" x2="185.35" y2="262.30" stroke="#666" stroke-width="0.7"/>
<line x1="186.49" y1="261.30" x2="186.49" y2="262.30" stroke="#666" stroke-width="0.7"/>
<line x1="187.50" y1="261.30" x2="187.50" y2="262.30" stroke="#666" stroke-width="0.7"/>
<text x="149.20" y="274.60" font-size="10.8" text-anchor="middle" font-weight="normal" >CD337</text>
<rect x="198.10" y="182.20" width="79.30" height="79.10" fill="none" stroke="#7a7a7a" stroke-width="1.0"/>
<line x1="196.80" y1="257.53" x2="198.10" y2="257.53" stroke="#555" stroke-width="0.9"/>
<line x1="196.80" y1="253.75" x2="198.10" y2="253.75" stroke="#555" stroke-width="0.9"/>
<line x1="196.80" y1="249.97" x2="198.10" y2="249.97" stroke="#555" stroke-width="0.9"/>
<line x1="195.70" y1="246.20" x2="198.10" y2="246.20" stroke="#555" stroke-width="0.9"/>
<line x1="196.80" y1="242.43" x2="198.10" y2="242.43" stroke="#555" stroke-width="0.9"/>
<line x1="196.80" y1="238.65" x2="198.10" y2="238.65" stroke="#555" stroke-width="0.9"/>
<line x1="196.80" y1="234.88" x2="198.10" y2="234.88" stroke="#555" stroke-width="0.9"/>
<line x1="195.70" y1="231.10" x2="198.10" y2="231.10" stroke="#555" stroke-width="0.9"/>
<line x1="196.80" y1="227.32" x2="198.10" y2="227.32" stroke="#555" stroke-width="0.9"/>
<line x1="196.80" y1="223.55" x2="198.10" y2="223.55" stroke="#555" stroke-width="0.9"/>
<line x1="196.80" y1="219.77" x2="198.10" y2="219.77" stroke="#555" stroke-width="0.9"/>
<line x1="195.70" y1="216.00" x2="198.10" y2="216.00" stroke="#555" stroke-width="0.9"/>
<line x1="196.80" y1="212.22" x2="198.10" y2="212.22" stroke="#555" stroke-width="0.9"/>
<line x1="196.80" y1="208.45" x2="198.10" y2="208.45" stroke="#555" stroke-width="0.9"/>
<line x1="196.80" y1="204.67" x2="198.10" y2="204.67" stroke="#555" stroke-width="0.9"/>
<line x1="195.70" y1="200.90" x2="198.10" y2="200.90" stroke="#555" stroke-width="0.9"/>
<line x1="196.80" y1="197.12" x2="198.10" y2="197.12" stroke="#555" stroke-width="0.9"/>
<line x1="196.80" y1="193.35" x2="198.10" y2="193.35" stroke="#555" stroke-width="0.9"/>
<line x1="196.80" y1="189.57" x2="198.10" y2="189.57" stroke="#555" stroke-width="0.9"/>
<line x1="195.70" y1="185.80" x2="198.10" y2="185.80" stroke="#555" stroke-width="0.9"/>
<line x1="198.10" y1="261.30" x2="198.10" y2="263.10" stroke="#666" stroke-width="0.7"/>
<line x1="204.07" y1="261.30" x2="204.07" y2="262.30" stroke="#666" stroke-width="0.7"/>
<line x1="207.56" y1="261.30" x2="207.56" y2="262.30" stroke="#666" stroke-width="0.7"/>
<line x1="210.04" y1="261.30" x2="210.04" y2="262.30" stroke="#666" stroke-width="0.7"/>
<line x1="211.96" y1="261.30" x2="211.96" y2="262.30" stroke="#666" stroke-width="0.7"/>
<line x1="213.53" y1="261.30" x2="213.53" y2="262.30" stroke="#666" stroke-width="0.7"/>
<line x1="214.85" y1="261.30" x2="214.85" y2="262.30" stroke="#666" stroke-width="0.7"/>
<line x1="216.00" y1="261.30" x2="216.00" y2="262.30" stroke="#666" stroke-width="0.7"/>
<line x1="217.02" y1="261.30" x2="217.02" y2="262.30" stroke="#666" stroke-width="0.7"/>
<line x1="217.92" y1="261.30" x2="217.92" y2="263.10" stroke="#666" stroke-width="0.7"/>
<line x1="223.89" y1="261.30" x2="223.89" y2="262.30" stroke="#666" stroke-width="0.7"/>
<line x1="227.38" y1="261.30" x2="227.38" y2="262.30" stroke="#666" stroke-width="0.7"/>
<line x1="229.86" y1="261.30" x2="229.86" y2="262.30" stroke="#666" stroke-width="0.7"/>
<line x1="231.78" y1="261.30" x2="231.78" y2="262.30" stroke="#666" stroke-width="0.7"/>
<line x1="233.35" y1="261.30" x2="233.35" y2="262.30" stroke="#666" stroke-width="0.7"/>
<line x1="234.68" y1="261.30" x2="234.68" y2="262.30" stroke="#666" stroke-width="0.7"/>
<line x1="235.83" y1="261.30" x2="235.83" y2="262.30" stroke="#666" stroke-width="0.7"/>
<line x1="236.84" y1="261.30" x2="236.84" y2="262.30" stroke="#666" stroke-width="0.7"/>
<line x1="237.75" y1="261.30" x2="237.75" y2="263.10" stroke="#666" stroke-width="0.7"/>
<line x1="243.72" y1="261.30" x2="243.72" y2="262.30" stroke="#666" stroke-width="0.7"/>
<line x1="247.21" y1="261.30" x2="247.21" y2="262.30" stroke="#666" stroke-width="0.7"/>
<line x1="249.69" y1="261.30" x2="249.69" y2="262.30" stroke="#666" stroke-width="0.7"/>
<line x1="251.61" y1="261.30" x2="251.61" y2="262.30" stroke="#666" stroke-width="0.7"/>
<line x1="253.18" y1="261.30" x2="253.18" y2="262.30" stroke="#666" stroke-width="0.7"/>
<line x1="254.50" y1="261.30" x2="254.50" y2="262.30" stroke="#666" stroke-width="0.7"/>
<line x1="255.65" y1="261.30" x2="255.65" y2="262.30" stroke="#666" stroke-width="0.7"/>
<line x1="256.67" y1="261.30" x2="256.67" y2="262.30" stroke="#666" stroke-width="0.7"/>
<line x1="257.57" y1="261.30" x2="257.57" y2="263.10" stroke="#666" stroke-width="0.7"/>
<line x1="263.54" y1="261.30" x2="263.54" y2="262.30" stroke="#666" stroke-width="0.7"/>
<line x1="267.03" y1="261.30" x2="267.03" y2="262.30" stroke="#666" stroke-width="0.7"/>
<line x1="269.51" y1="261.30" x2="269.51" y2="262.30" stroke="#666" stroke-width="0.7"/>
<line x1="271.43" y1="261.30" x2="271.43" y2="262.30" stroke="#666" stroke-width="0.7"/>
<line x1="273.00" y1="261.30" x2="273.00" y2="262.30" stroke="#666" stroke-width="0.7"/>
<line x1="274.33" y1="261.30" x2="274.33" y2="262.30" stroke="#666" stroke-width="0.7"/>
<line x1="275.48" y1="261.30" x2="275.48" y2="262.30" stroke="#666" stroke-width="0.7"/>
<line x1="276.49" y1="261.30" x2="276.49" y2="262.30" stroke="#666" stroke-width="0.7"/>
<text x="241.50" y="274.60" font-size="10.8" text-anchor="middle" font-weight="normal" >CD16</text>
<rect x="21.20" y="285.50" width="79.10" height="78.70" fill="none" stroke="#7a7a7a" stroke-width="1.0"/>
<line x1="19.90" y1="360.44" x2="21.20" y2="360.44" stroke="#555" stroke-width="0.9"/>
<line x1="19.90" y1="356.69" x2="21.20" y2="356.69" stroke="#555" stroke-width="0.9"/>
<line x1="19.90" y1="352.94" x2="21.20" y2="352.94" stroke="#555" stroke-width="0.9"/>
<line x1="18.80" y1="349.18" x2="21.20" y2="349.18" stroke="#555" stroke-width="0.9"/>
<line x1="19.90" y1="345.43" x2="21.20" y2="345.43" stroke="#555" stroke-width="0.9"/>
<line x1="19.90" y1="341.67" x2="21.20" y2="341.67" stroke="#555" stroke-width="0.9"/>
<line x1="19.90" y1="337.92" x2="21.20" y2="337.92" stroke="#555" stroke-width="0.9"/>
<line x1="18.80" y1="334.16" x2="21.20" y2="334.16" stroke="#555" stroke-width="0.9"/>
<line x1="19.90" y1="330.41" x2="21.20" y2="330.41" stroke="#555" stroke-width="0.9"/>
<line x1="19.90" y1="326.65" x2="21.20" y2="326.65" stroke="#555" stroke-width="0.9"/>
<line x1="19.90" y1="322.89" x2="21.20" y2="322.89" stroke="#555" stroke-width="0.9"/>
<line x1="18.80" y1="319.14" x2="21.20" y2="319.14" stroke="#555" stroke-width="0.9"/>
<line x1="19.90" y1="315.38" x2="21.20" y2="315.38" stroke="#555" stroke-width="0.9"/>
<line x1="19.90" y1="311.63" x2="21.20" y2="311.63" stroke="#555" stroke-width="0.9"/>
<line x1="19.90" y1="307.88" x2="21.20" y2="307.88" stroke="#555" stroke-width="0.9"/>
<line x1="18.80" y1="304.12" x2="21.20" y2="304.12" stroke="#555" stroke-width="0.9"/>
<line x1="19.90" y1="300.37" x2="21.20" y2="300.37" stroke="#555" stroke-width="0.9"/>
<line x1="19.90" y1="296.61" x2="21.20" y2="296.61" stroke="#555" stroke-width="0.9"/>
<line x1="19.90" y1="292.86" x2="21.20" y2="292.86" stroke="#555" stroke-width="0.9"/>
<line x1="18.80" y1="289.10" x2="21.20" y2="289.10" stroke="#555" stroke-width="0.9"/>
<line x1="21.20" y1="364.20" x2="21.20" y2="366.00" stroke="#666" stroke-width="0.7"/>
<line x1="27.15" y1="364.20" x2="27.15" y2="365.20" stroke="#666" stroke-width="0.7"/>
<line x1="30.64" y1="364.20" x2="30.64" y2="365.20" stroke="#666" stroke-width="0.7"/>
<line x1="33.11" y1="364.20" x2="33.11" y2="365.20" stroke="#666" stroke-width="0.7"/>
<line x1="35.02" y1="364.20" x2="35.02" y2="365.20" stroke="#666" stroke-width="0.7"/>
<line x1="36.59" y1="364.20" x2="36.59" y2="365.20" stroke="#666" stroke-width="0.7"/>
<line x1="37.91" y1="364.20" x2="37.91" y2="365.20" stroke="#666" stroke-width="0.7"/>
<line x1="39.06" y1="364.20" x2="39.06" y2="365.20" stroke="#666" stroke-width="0.7"/>
<line x1="40.07" y1="364.20" x2="40.07" y2="365.20" stroke="#666" stroke-width="0.7"/>
<line x1="40.97" y1="364.20" x2="40.97" y2="366.00" stroke="#666" stroke-width="0.7"/>
<line x1="46.93" y1="364.20" x2="46.93" y2="365.20" stroke="#666" stroke-width="0.7"/>
<line x1="50.41" y1="364.20" x2="50.41" y2="365.20" stroke="#666" stroke-width="0.7"/>
<line x1="52.88" y1="364.20" x2="52.88" y2="365.20" stroke="#666" stroke-width="0.7"/>
<line x1="54.80" y1="364.20" x2="54.80" y2="365.20" stroke="#666" stroke-width="0.7"/>
<line x1="56.36" y1="364.20" x2="56.36" y2="365.20" stroke="#666" stroke-width="0.7"/>
<line x1="57.69" y1="364.20" x2="57.69" y2="365.20" stroke="#666" stroke-width="0.7"/>
<line x1="58.83" y1="364.20" x2="58.83" y2="365.20" stroke="#666" stroke-width="0.7"/>
<line x1="59.85" y1="364.20" x2="59.85" y2="365.20" stroke="#666" stroke-width="0.7"/>
<line x1="60.75" y1="364.20" x2="60.75" y2="366.00" stroke="#666" stroke-width="0.7"/>
<line x1="66.70" y1="364.20" x2="66.70" y2="365.20" stroke="#666" stroke-width="0.7"/>
<line x1="70.19" y1="364.20" x2="70.19" y2="365.20" stroke="#666" stroke-width="0.7"/>
<line x1="72.66" y1="364.20" x2="72.66" y2="365.20" stroke="#666" stroke-width="0.7"/>
<line x1="74.57" y1="364.20" x2="74.57" y2="365.20" stroke="#666" stroke-width="0.7"/>
<line x1="76.14" y1="364.20" x2="76.14" y2="365.20" stroke="#666" stroke-width="0.7"/>
<line x1="77.46" y1="364.20" x2="77.46" y2="365.20" stroke="#666" stroke-width="0.7"/>
<line x1="78.61" y1="364.20" x2="78.61" y2="365.20" stroke="#666" stroke-width="0.7"/>
<line x1="79.62" y1="364.20" x2="79.62" y2="365.20" stroke="#666" stroke-width="0.7"/>
<line x1="80.52" y1="364.20" x2="80.52" y2="366.00" stroke="#666" stroke-width="0.7"/>
<line x1="86.48" y1="364.20" x2="86.48" y2="365.20" stroke="#666" stroke-width="0.7"/>
<line x1="89.96" y1="364.20" x2="89.96" y2="365.20" stroke="#666" stroke-width="0.7"/>
<line x1="92.43" y1="364.20" x2="92.43" y2="365.20" stroke="#666" stroke-width="0.7"/>
<line x1="94.35" y1="364.20" x2="94.35" y2="365.20" stroke="#666" stroke-width="0.7"/>
<line x1="95.91" y1="364.20" x2="95.91" y2="365.20" stroke="#666" stroke-width="0.7"/>
<line x1="97.24" y1="364.20" x2="97.24" y2="365.20" stroke="#666" stroke-width="0.7"/>
<line x1="98.38" y1="364.20" x2="98.38" y2="365.20" stroke="#666" stroke-width="0.7"/>
<line x1="99.40" y1="364.20" x2="99.40" y2="365.20" stroke="#666" stroke-width="0.7"/>
<text x="61.80" y="378.10" font-size="10.8" text-anchor="middle" font-weight="normal" >CD226</text>
<rect x="109.80" y="285.50" width="78.90" height="78.70" fill="none" stroke="#7a7a7a" stroke-width="1.0"/>
<line x1="108.50" y1="360.44" x2="109.80" y2="360.44" stroke="#555" stroke-width="0.9"/>
<line x1="108.50" y1="356.69" x2="109.80" y2="356.69" stroke="#555" stroke-width="0.9"/>
<line x1="108.50" y1="352.94" x2="109.80" y2="352.94" stroke="#555" stroke-width="0.9"/>
<line x1="107.40" y1="349.18" x2="109.80" y2="349.18" stroke="#555" stroke-width="0.9"/>
<line x1="108.50" y1="345.43" x2="109.80" y2="345.43" stroke="#555" stroke-width="0.9"/>
<line x1="108.50" y1="341.67" x2="109.80" y2="341.67" stroke="#555" stroke-width="0.9"/>
<line x1="108.50" y1="337.92" x2="109.80" y2="337.92" stroke="#555" stroke-width="0.9"/>
<line x1="107.40" y1="334.16" x2="109.80" y2="334.16" stroke="#555" stroke-width="0.9"/>
<line x1="108.50" y1="330.41" x2="109.80" y2="330.41" stroke="#555" stroke-width="0.9"/>
<line x1="108.50" y1="326.65" x2="109.80" y2="326.65" stroke="#555" stroke-width="0.9"/>
<line x1="108.50" y1="322.89" x2="109.80" y2="322.89" stroke="#555" stroke-width="0.9"/>
<line x1="107.40" y1="319.14" x2="109.80" y2="319.14" stroke="#555" stroke-width="0.9"/>
<line x1="108.50" y1="315.38" x2="109.80" y2="315.38" stroke="#555" stroke-width="0.9"/>
<line x1="108.50" y1="311.63" x2="109.80" y2="311.63" stroke="#555" stroke-width="0.9"/>
<line x1="108.50" y1="307.88" x2="109.80" y2="307.88" stroke="#555" stroke-width="0.9"/>
<line x1="107.40" y1="304.12" x2="109.80" y2="304.12" stroke="#555" stroke-width="0.9"/>
<line x1="108.50" y1="300.37" x2="109.80" y2="300.37" stroke="#555" stroke-width="0.9"/>
<line x1="108.50" y1="296.61" x2="109.80" y2="296.61" stroke="#555" stroke-width="0.9"/>
<line x1="108.50" y1="292.86" x2="109.80" y2="292.86" stroke="#555" stroke-width="0.9"/>
<line x1="107.40" y1="289.10" x2="109.80" y2="289.10" stroke="#555" stroke-width="0.9"/>
<line x1="109.80" y1="364.20" x2="109.80" y2="366.00" stroke="#666" stroke-width="0.7"/>
<line x1="115.74" y1="364.20" x2="115.74" y2="365.20" stroke="#666" stroke-width="0.7"/>
<line x1="119.21" y1="364.20" x2="119.21" y2="365.20" stroke="#666" stroke-width="0.7"/>
<line x1="121.68" y1="364.20" x2="121.68" y2="365.20" stroke="#666" stroke-width="0.7"/>
<line x1="123.59" y1="364.20" x2="123.59" y2="365.20" stroke="#666" stroke-width="0.7"/>
<line x1="125.15" y1="364.20" x2="125.15" y2="365.20" stroke="#666" stroke-width="0.7"/>
<line x1="126.47" y1="364.20" x2="126.47" y2="365.20" stroke="#666" stroke-width="0.7"/>
<line x1="127.61" y1="364.20" x2="127.61" y2="365.20" stroke="#666" stroke-width="0.7"/>
<line x1="128.62" y1="364.20" x2="128.62" y2="365.20" stroke="#666" stroke-width="0.7"/>
<line x1="129.53" y1="364.20" x2="129.53" y2="366.00" stroke="#666" stroke-width="0.7"/>
<line x1="135.46" y1="364.20" x2="135.46" y2="365.20" stroke="#666" stroke-width="0.7"/>
<line x1="138.94" y1="364.20" x2="138.94" y2="365.20" stroke="#666" stroke-width="0.7"/>
<line x1="141.40" y1="364.20" x2="141.40" y2="365.20" stroke="#666" stroke-width="0.7"/>
<line x1="143.31" y1="364.20" x2="143.31" y2="365.20" stroke="#666" stroke-width="0.7"/>
<line x1="144.87" y1="364.20" x2="144.87" y2="365.20" stroke="#666" stroke-width="0.7"/>
<line x1="146.19" y1="364.20" x2="146.19" y2="365.20" stroke="#666" stroke-width="0.7"/>
<line x1="147.34" y1="364.20" x2="147.34" y2="365.20" stroke="#666" stroke-width="0.7"/>
<line x1="148.35" y1="364.20" x2="148.35" y2="365.20" stroke="#666" stroke-width="0.7"/>
<line x1="149.25" y1="364.20" x2="149.25" y2="366.00" stroke="#666" stroke-width="0.7"/>
<line x1="155.19" y1="364.20" x2="155.19" y2="365.20" stroke="#666" stroke-width="0.7"/>
<line x1="158.66" y1="364.20" x2="158.66" y2="365.20" stroke="#666" stroke-width="0.7"/>
<line x1="161.13" y1="364.20" x2="161.13" y2="365.20" stroke="#666" stroke-width="0.7"/>
<line x1="163.04" y1="364.20" x2="163.04" y2="365.20" stroke="#666" stroke-width="0.7"/>
<line x1="164.60" y1="364.20" x2="164.60" y2="365.20" stroke="#666" stroke-width="0.7"/>
<line x1="165.92" y1="364.20" x2="165.92" y2="365.20" stroke="#666" stroke-width="0.7"/>
<line x1="167.06" y1="364.20" x2="167.06" y2="365.20" stroke="#666" stroke-width="0.7"/>
<line x1="168.07" y1="364.20" x2="168.07" y2="365.20" stroke="#666" stroke-width="0.7"/>
<line x1="168.97" y1="364.20" x2="168.97" y2="366.00" stroke="#666" stroke-width="0.7"/>
<line x1="174.91" y1="364.20" x2="174.91" y2="365.20" stroke="#666" stroke-width="0.7"/>
<line x1="178.39" y1="364.20" x2="178.39" y2="365.20" stroke="#666" stroke-width="0.7"/>
<line x1="180.85" y1="364.20" x2="180.85" y2="365.20" stroke="#666" stroke-width="0.7"/>
<line x1="182.76" y1="364.20" x2="182.76" y2="365.20" stroke="#666" stroke-width="0.7"/>
<line x1="184.32" y1="364.20" x2="184.32" y2="365.20" stroke="#666" stroke-width="0.7"/>
<line x1="185.64" y1="364.20" x2="185.64" y2="365.20" stroke="#666" stroke-width="0.7"/>
<line x1="186.79" y1="364.20" x2="186.79" y2="365.20" stroke="#666" stroke-width="0.7"/>
<line x1="187.80" y1="364.20" x2="187.80" y2="365.20" stroke="#666" stroke-width="0.7"/>
<text x="149.60" y="378.10" font-size="10.8" text-anchor="middle" font-weight="normal" >CD335</text>
<line x1="205.8" y1="304.5" x2="222.6" y2="304.5" stroke="#5a5a5a" stroke-width="1.25"/>
<line x1="205.8" y1="318.3" x2="222.6" y2="318.3" stroke="#000" stroke-width="1.6"/>
<text x="228.00" y="308.00" font-size="10.6" text-anchor="start" font-weight="normal" >mock</text>
<text x="228.00" y="322.00" font-size="10.6" text-anchor="start" font-weight="normal" >mbIL15</text>
<text x="0.60" y="13.60" font-size="17.6" text-anchor="start" font-weight="bold" >A</text>
<text x="-0.30" y="181.60" font-size="17.6" text-anchor="start" font-weight="bold" >B</text>
<text x="293.20" y="84.00" font-size="17.6" text-anchor="start" font-weight="bold" >C</text>
<rect x="342.60" y="73.60" width="7.50" height="5.6" fill="#fff" stroke="#000" stroke-width="1.05"/>
<text x="340.30" y="79.00" font-size="9.3" text-anchor="end" font-weight="normal" >CASP9</text>
<rect x="342.60" y="82.62" width="9.40" height="5.6" fill="#fff" stroke="#000" stroke-width="1.05"/>
<text x="340.30" y="88.07" font-size="9.3" text-anchor="end" font-weight="normal" >CDK8</text>
<rect x="342.60" y="91.64" width="10.70" height="5.6" fill="#fff" stroke="#000" stroke-width="1.05"/>
<text x="340.30" y="97.15" font-size="9.3" text-anchor="end" font-weight="normal" >STAT6</text>
<rect x="342.60" y="100.66" width="10.70" height="5.6" fill="#fff" stroke="#000" stroke-width="1.05"/>
<text x="340.30" y="106.22" font-size="9.3" text-anchor="end" font-weight="normal" >MEK1</text>
<rect x="342.60" y="109.68" width="11.70" height="5.6" fill="#fff" stroke="#000" stroke-width="1.05"/>
<text x="340.30" y="115.30" font-size="9.3" text-anchor="end" font-weight="normal" >STAT3</text>
<rect x="342.60" y="118.70" width="13.60" height="5.6" fill="#fff" stroke="#000" stroke-width="1.05"/>
<text x="340.30" y="124.37" font-size="9.3" text-anchor="end" font-weight="normal" >Bcl-xL</text>
<rect x="342.60" y="127.72" width="13.80" height="5.6" fill="#fff" stroke="#000" stroke-width="1.05"/>
<text x="340.30" y="133.44" font-size="9.3" text-anchor="end" font-weight="normal" >IRS1</text>
<rect x="342.60" y="136.74" width="15.20" height="5.6" fill="#fff" stroke="#000" stroke-width="1.05"/>
<text x="340.30" y="142.52" font-size="9.3" text-anchor="end" font-weight="normal" >Tau</text>
<rect x="342.60" y="145.76" width="17.20" height="5.6" fill="#fff" stroke="#000" stroke-width="1.05"/>
<text x="340.30" y="151.59" font-size="9.3" text-anchor="end" font-weight="normal" >STAT2</text>
<rect x="342.60" y="154.78" width="18.90" height="5.6" fill="#fff" stroke="#000" stroke-width="1.05"/>
<text x="340.30" y="160.67" font-size="9.3" text-anchor="end" font-weight="normal" >STAT5B</text>
<rect x="342.60" y="163.80" width="20.10" height="5.6" fill="#fff" stroke="#000" stroke-width="1.05"/>
<text x="340.30" y="169.74" font-size="9.3" text-anchor="end" font-weight="normal" >PTP1D</text>
<rect x="342.60" y="172.82" width="23.10" height="5.6" fill="#fff" stroke="#000" stroke-width="1.05"/>
<text x="340.30" y="178.81" font-size="9.3" text-anchor="end" font-weight="normal" >CASP7</text>
<rect x="342.60" y="181.84" width="24.40" height="5.6" fill="#fff" stroke="#000" stroke-width="1.05"/>
<text x="340.30" y="187.89" font-size="9.3" text-anchor="end" font-weight="normal" >Erk1/2</text>
<rect x="342.60" y="190.86" width="25.80" height="5.6" fill="#fff" stroke="#000" stroke-width="1.05"/>
<text x="340.30" y="196.96" font-size="9.3" text-anchor="end" font-weight="normal" >Bax</text>
<rect x="342.60" y="199.88" width="27.00" height="5.6" fill="#fff" stroke="#000" stroke-width="1.05"/>
<text x="340.30" y="206.04" font-size="9.3" text-anchor="end" font-weight="normal" >STAT5A</text>
<rect x="342.60" y="208.90" width="30.00" height="5.6" fill="#fff" stroke="#000" stroke-width="1.05"/>
<text x="340.30" y="215.11" font-size="9.3" text-anchor="end" font-weight="normal" >PTEN</text>
<rect x="342.60" y="217.92" width="34.80" height="5.6" fill="#fff" stroke="#000" stroke-width="1.05"/>
<text x="340.30" y="224.18" font-size="9.3" text-anchor="end" font-weight="normal" >Bcl-xS/L</text>
<rect x="342.60" y="226.94" width="36.90" height="5.6" fill="#fff" stroke="#000" stroke-width="1.05"/>
<text x="340.30" y="233.26" font-size="9.3" text-anchor="end" font-weight="normal" >STAT1a</text>
<rect x="342.60" y="235.96" width="49.20" height="5.6" fill="#fff" stroke="#000" stroke-width="1.05"/>
<text x="340.30" y="242.33" font-size="9.3" text-anchor="end" font-weight="normal" >Elk-1</text>
<rect x="342.60" y="244.98" width="67.10" height="5.6" fill="#fff" stroke="#000" stroke-width="1.05"/>
<text x="340.30" y="251.41" font-size="9.3" text-anchor="end" font-weight="normal" >GSK3a</text>
<rect x="342.60" y="254.00" width="88.40" height="5.6" fill="#fff" stroke="#000" stroke-width="1.05"/>
<text x="340.30" y="260.48" font-size="9.3" text-anchor="end" font-weight="normal" >Src</text>
<rect x="342.60" y="263.02" width="114.00" height="5.6" fill="#fff" stroke="#000" stroke-width="1.05"/>
<text x="340.30" y="269.55" font-size="9.3" text-anchor="end" font-weight="normal" >RafA</text>
<rect x="342.60" y="272.04" width="119.70" height="5.6" fill="#fff" stroke="#000" stroke-width="1.05"/>
<text x="340.30" y="278.63" font-size="9.3" text-anchor="end" font-weight="normal" >CDK6</text>
<rect x="342.60" y="281.06" width="119.70" height="5.6" fill="#fff" stroke="#000" stroke-width="1.05"/>
<text x="340.30" y="287.70" font-size="9.3" text-anchor="end" font-weight="normal" >Bad</text>
<rect x="469.1" y="272.04" width="18.30" height="5.6" fill="#fff" stroke="#000" stroke-width="1.05"/>
<rect x="469.1" y="281.06" width="28.40" height="5.6" fill="#fff" stroke="#000" stroke-width="1.05"/>
<line x1="342.60" y1="69.3" x2="342.60" y2="290.3" stroke="#000" stroke-width="1.3"/>
<line x1="342.0" y1="289.8" x2="461.8" y2="289.8" stroke="#000" stroke-width="1.4"/>
<line x1="468.4" y1="289.8" x2="508.9" y2="289.8" stroke="#000" stroke-width="1.4"/>
<line x1="342.80" y1="289.8" x2="342.80" y2="292.6" stroke="#000" stroke-width="1.1"/>
<text x="342.80" y="301.90" font-size="9" text-anchor="middle" font-weight="normal" >0</text>
<line x1="366.15" y1="289.8" x2="366.15" y2="292.6" stroke="#000" stroke-width="1.1"/>
<text x="366.15" y="301.90" font-size="9" text-anchor="middle" font-weight="normal" >100</text>
<line x1="389.50" y1="289.8" x2="389.50" y2="292.6" stroke="#000" stroke-width="1.1"/>
<text x="389.50" y="301.90" font-size="9" text-anchor="middle" font-weight="normal" >200</text>
<line x1="412.85" y1="289.8" x2="412.85" y2="292.6" stroke="#000" stroke-width="1.1"/>
<text x="412.85" y="301.90" font-size="9" text-anchor="middle" font-weight="normal" >300</text>
<line x1="436.20" y1="289.8" x2="436.20" y2="292.6" stroke="#000" stroke-width="1.1"/>
<text x="436.20" y="301.90" font-size="9" text-anchor="middle" font-weight="normal" >400</text>
<line x1="459.55" y1="289.8" x2="459.55" y2="292.6" stroke="#000" stroke-width="1.1"/>
<text x="459.55" y="301.90" font-size="9" text-anchor="middle" font-weight="normal" >500</text>
<line x1="468.90" y1="289.8" x2="468.90" y2="292.6" stroke="#000" stroke-width="1.1"/>
<line x1="481.70" y1="289.8" x2="481.70" y2="292.6" stroke="#000" stroke-width="1.1"/>
<line x1="495.00" y1="289.8" x2="495.00" y2="292.6" stroke="#000" stroke-width="1.1"/>
<line x1="508.30" y1="289.8" x2="508.30" y2="292.6" stroke="#000" stroke-width="1.1"/>
<text x="482.40" y="301.90" font-size="9" text-anchor="middle" font-weight="normal" >2000</text>
<text x="508.70" y="301.90" font-size="9" text-anchor="middle" font-weight="normal" >3000</text>
<text x="426.90" y="316.50" font-size="10.8" text-anchor="middle" font-weight="normal" >% change with mbIL15</text>
</svg>
</body></html>
